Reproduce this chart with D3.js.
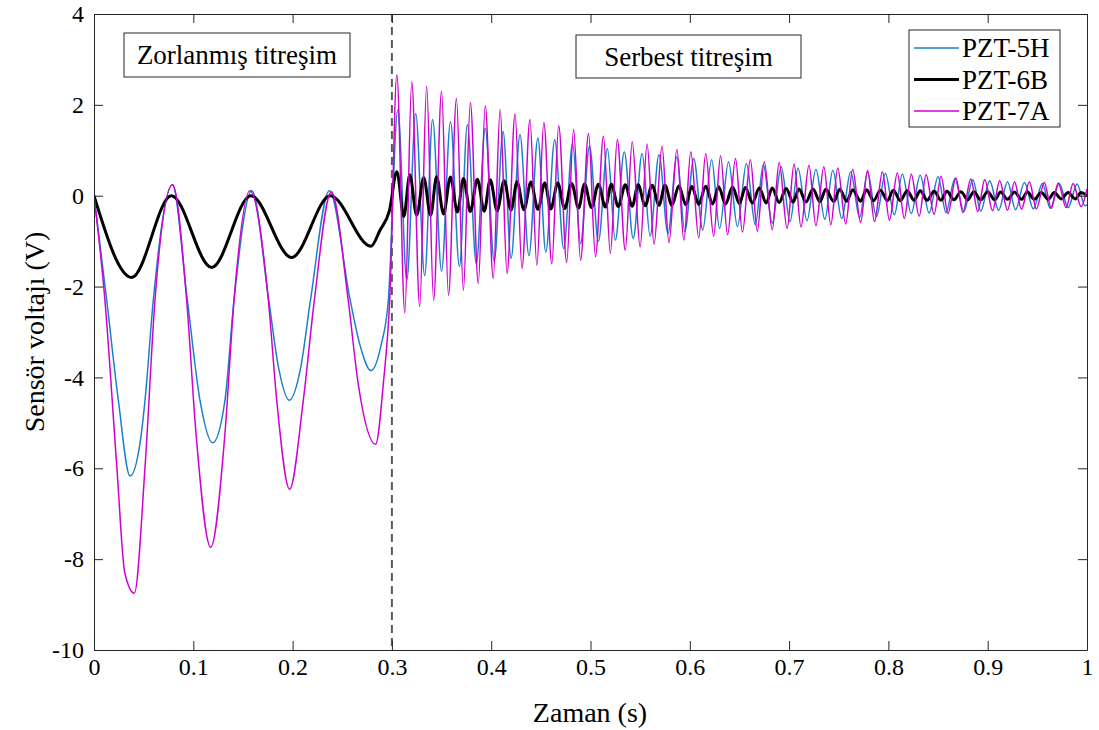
<!DOCTYPE html>
<html>
<head>
<meta charset="utf-8">
<script src="https://cdn.jsdelivr.net/npm/d3@7"></script>
<style>
  body { margin: 0; background: #fff; }
  svg text { fill: #000; }
</style>
</head>
<body>
<svg id="chart" width="1099" height="730"></svg>
<script>
// tick values
const xTicks = [0, 0.1, 0.2, 0.3, 0.4, 0.5, 0.6, 0.7, 0.8, 0.9, 1];
const yTicks = [-10, -8, -6, -4, -2, 0, 2, 4];

const seriesNames = ["PZT-5H", "PZT-6B", "PZT-7A"];

// forced part (t < 0.3): [time, volt]
const forced5H = [[0,0],[.0128,-2.3],[.0245,-4.5],[.0363,-6.17],[.0463,-5.45],[.0514,-4.5],[.0597,-2.3],[.079,.24],
  [.094,-2.3],[.1067,-4.5],[.1195,-5.44],[.1319,-4.5],[.141,-2.3],[.159,.11],
  [.176,-2.3],[.186,-3.8],[.1967,-4.5],[.208,-3.8],[.218,-2.3],[.237,.11],
  [.258,-2.3],[.268,-3.3],[.279,-3.85],[.289,-3.3],[.2964,-2.3]];
const forced6B = [[0,0],[.038,-1.80],[.078,0],[.1185,-1.58],[.158,0],[.199,-1.36],[.238,0],[.279,-1.11],[.288,-0.76],[.2976,-0.32]];
const forced7A = [[0,0],[.011,-2.3],[.023,-5.97],[.031,-8.3],[.0406,-8.75],[.0514,-5.97],[.0614,-2.3],[.0792,.24],
  [.0933,-2.3],[.1027,-5.23],[.1175,-7.74],[.1319,-5.23],[.141,-2.3],[.157,.11],
  [.1756,-2.3],[.184,-4.5],[.197,-6.46],[.2108,-4.5],[.2219,-2.3],[.239,.09],
  [.256,-2.3],[.266,-4.13],[.2836,-5.47],[.2914,-4.13],[.298,-2.2]];

// free part: peaks and troughs
const peaks5H = [[.306,1.89],[.324,1.81],[.341,1.68],[.359,1.63],[.376,1.56],[.394,1.48],[.412,1.41],[.429,1.34],[.447,1.27],[.464,1.23],
  [.482,1.15],[.499,1.09],[.517,1.04],[.534,0.97],[.552,0.93],[.569,0.90],[.587,0.86],[.604,0.82],[.622,0.79],[.639,0.75],
  [.657,0.71],[.674,0.68],[.692,0.64],[.709,0.61],[.727,0.58],[.744,0.56],[.762,0.53],[.779,0.51],[.797,0.49],[.814,0.47],
  [.832,0.45],[.850,0.42],[.867,0.38],[.885,0.35],[.902,0.33],[.920,0.31],[.937,0.29],[.955,0.27],[.972,0.27],[.990,0.26]];
const troughs5H = [[.315,-1.86],[.333,-1.76],[.350,-1.66],[.368,-1.56],[.385,-1.50],[.403,-1.44],[.420,-1.38],[.438,-1.32],[.455,-1.24],[.473,-1.16],
  [.490,-1.05],[.508,-1.01],[.525,-0.98],[.543,-0.94],[.560,-0.89],[.578,-0.83],[.595,-0.79],[.613,-0.76],[.630,-0.72],[.648,-0.68],
  [.666,-0.64],[.683,-0.60],[.701,-0.57],[.718,-0.55],[.736,-0.52],[.753,-0.50],[.771,-0.48],[.788,-0.46],[.806,-0.42],[.823,-0.39],
  [.841,-0.38],[.858,-0.37],[.876,-0.35],[.893,-0.34],[.911,-0.32],[.928,-0.31],[.946,-0.29],[.963,-0.28],[.981,-0.26],[.998,-0.22],[1,-0.2]];

const peaks6B = [[.305,.53],[.318,.46],[.332,.40],[.345,.42],[.359,.41],[.372,.38],[.386,.36],[.399,.35],[.413,.33],[.426,.31],
  [.440,.30],[.454,.28],[.467,.28],[.481,.27],[.494,.26],[.508,.25],[.521,.25],[.535,.24],[.548,.24],[.562,.23],
  [.575,.23],[.589,.22],[.602,.21],[.616,.21],[.629,.20],[.643,.19],[.656,.18],[.670,.17],[.683,.17],[.697,.16],
  [.710,.15],[.724,.15],[.737,.14],[.751,.14],[.764,.13],[.778,.13],[.792,.12],[.805,.12],[.819,.11],[.832,.11],
  [.846,.10],[.859,.10],[.873,.09],[.886,.09],[.900,.09],[.913,.08],[.927,.08],[.940,.08],[.954,.07],[.967,.07],
  [.981,.07],[.994,.07]];
const troughs6B = [[.312,-.46],[.325,-.43],[.339,-.43],[.352,-.40],[.366,-.36],[.379,-.35],[.393,-.34],[.406,-.33],[.420,-.32],[.433,-.31],
  [.447,-.30],[.460,-.29],[.474,-.28],[.488,-.27],[.501,-.26],[.515,-.25],[.528,-.24],[.542,-.23],[.555,-.22],[.569,-.21],
  [.582,-.21],[.596,-.20],[.609,-.19],[.623,-.18],[.636,-.18],[.650,-.17],[.663,-.16],[.677,-.16],[.690,-.15],[.704,-.14],
  [.717,-.14],[.731,-.13],[.745,-.13],[.758,-.12],[.772,-.12],[.785,-.11],[.799,-.11],[.812,-.11],[.826,-.10],[.839,-.10],
  [.853,-.10],[.866,-.09],[.880,-.09],[.893,-.09],[.907,-.09],[.920,-.08],[.934,-.08],[.947,-.08],[.961,-.08],[.974,-.07],
  [.988,-.07],[1,0]];

const peaks7A = [[.305,2.66],[.320,2.51],[.335,2.41],[.350,2.30],[.365,2.14],[.379,2.05],[.394,1.98],[.409,1.89],[.424,1.80],[.439,1.68],
  [.453,1.61],[.468,1.54],[.483,1.46],[.498,1.37],[.513,1.31],[.527,1.24],[.542,1.19],[.557,1.14],[.572,1.09],[.587,1.02],
  [.601,0.97],[.616,0.93],[.631,0.88],[.646,0.82],[.661,0.79],[.675,0.75],[.690,0.73],[.705,0.70],[.720,0.67],[.735,0.64],
  [.749,0.61],[.764,0.58],[.779,0.56],[.794,0.53],[.809,0.50],[.823,0.47],[.838,0.46],[.853,0.43],[.868,0.39],[.883,0.37],
  [.897,0.35],[.912,0.33],[.927,0.31],[.942,0.31],[.957,0.29],[.971,0.28],[.986,0.27],[1,0.15]];
const troughs7A = [[.313,-2.58],[.328,-2.44],[.342,-2.30],[.357,-2.19],[.372,-2.08],[.387,-1.93],[.402,-1.82],[.416,-1.71],[.431,-1.60],[.446,-1.53],
  [.461,-1.50],[.476,-1.47],[.490,-1.42],[.505,-1.34],[.520,-1.27],[.535,-1.20],[.550,-1.13],[.564,-1.07],[.579,-1.03],[.594,-0.98],
  [.609,-0.93],[.624,-0.89],[.638,-0.86],[.653,-0.80],[.668,-0.78],[.683,-0.75],[.698,-0.72],[.712,-0.69],[.727,-0.66],[.742,-0.64],
  [.757,-0.62],[.772,-0.59],[.786,-0.57],[.801,-0.54],[.816,-0.50],[.831,-0.45],[.846,-0.41],[.860,-0.39],[.875,-0.37],[.890,-0.35],
  [.905,-0.33],[.920,-0.32],[.934,-0.30],[.949,-0.29],[.964,-0.28],[.979,-0.26],[.994,-0.24]];

const serif = "'Liberation Serif', 'Times New Roman', Times, Tinos, 'DejaVu Serif', serif";
const svg = d3.select("#chart");
const x = d3.scaleLinear().domain([0, 1]).range([94, 1087]);
const y = d3.scaleLinear().domain([-10, 4]).range([650, 14]);

const series = [
  { name: seriesNames[0], color: "#1a80c8", width: 1.5, pts: forced5H.concat(peaks5H, troughs5H) },
  { name: seriesNames[1], color: "#000000", width: 3, pts: forced6B.concat(peaks6B, troughs6B) },
  { name: seriesNames[2], color: "#d000d0", width: 1.5, pts: forced7A.concat(peaks7A, troughs7A) }
];
series.forEach(s => s.pts.sort((a, b) => a[0] - b[0]));

svg.append("clipPath").attr("id", "clip")
  .append("rect").attr("x", 94).attr("y", 14).attr("width", 993).attr("height", 636);

const line = d3.line()
  .x(d => x(d[0]))
  .y(d => y(d[1]))
  .curve(d3.curveMonotoneX);

// dashed separator
svg.append("line")
  .attr("x1", x(0.3)).attr("x2", x(0.3))
  .attr("y1", y(4)).attr("y2", y(-10))
  .attr("stroke", "#5a5a5a").attr("stroke-width", 2)
  .attr("stroke-dasharray", "8,5");

svg.append("g").attr("clip-path", "url(#clip)")
  .selectAll("path")
  .data(series)
  .join("path")
  .attr("d", d => line(d.pts))
  .attr("fill", "none")
  .attr("stroke", d => d.color)
  .attr("stroke-width", d => d.width)
  .attr("stroke-linejoin", "round");

// axes, MATLAB-like box with inward ticks
const axisColor = "#262626";
const fontSize = 24;
function styleAxis(g) {
  g.attr("font-family", null).attr("font-size", fontSize);
  g.selectAll("text").style("font-family", serif);
  g.selectAll(".domain, .tick line").attr("stroke", axisColor);
}
const plain = d => String(d);
svg.append("g").attr("transform", "translate(0,650)")
  .call(d3.axisBottom(x).tickValues(xTicks).tickFormat(plain).tickSizeInner(-9).tickSizeOuter(0).tickPadding(8))
  .call(styleAxis);
svg.append("g").attr("transform", "translate(94,0)")
  .call(d3.axisLeft(y).tickValues(yTicks).tickFormat(plain).tickSizeInner(-9).tickSizeOuter(0).tickPadding(10))
  .call(styleAxis);
svg.append("g").attr("transform", "translate(0,14)")
  .call(d3.axisTop(x).tickValues(xTicks).tickFormat("").tickSizeInner(-9).tickSizeOuter(0))
  .call(styleAxis);
svg.append("g").attr("transform", "translate(1087,0)")
  .call(d3.axisRight(y).tickValues(yTicks).tickFormat("").tickSizeInner(-9).tickSizeOuter(0))
  .call(styleAxis);

// axis titles
svg.append("text")
  .attr("x", 590).attr("y", 722)
  .attr("text-anchor", "middle").attr("font-size", 28).style("font-family", serif)
  .text("Zaman (s)");
svg.append("text")
  .attr("transform", "translate(44,332) rotate(-90)")
  .attr("text-anchor", "middle").attr("font-size", 28).style("font-family", serif)
  .text("Sensör voltajı (V)");

// annotation boxes
const notes = [
  { text: "Zorlanmış titreşim", x0: 124, y0: 33, w: 226, h: 44 },
  { text: "Serbest titreşim", x0: 576, y0: 35, w: 225, h: 43 }
];
notes.forEach(n => {
  svg.append("rect")
    .attr("x", n.x0).attr("y", n.y0).attr("width", n.w).attr("height", n.h)
    .attr("fill", "#fff").attr("stroke", axisColor).attr("stroke-width", 1);
  svg.append("text")
    .attr("x", n.x0 + n.w / 2).attr("y", n.y0 + n.h / 2)
    .attr("dy", "0.35em").attr("text-anchor", "middle")
    .attr("font-size", 27).style("font-family", serif)
    .text(n.text);
});

// legend
const lg = svg.append("g").attr("transform", "translate(909,30)");
lg.append("rect").attr("width", 151).attr("height", 97)
  .attr("fill", "#fff").attr("stroke", axisColor).attr("stroke-width", 1);
series.forEach((s, i) => {
  const yy = 18 + i * 31.5;
  lg.append("line").attr("x1", 5).attr("x2", 50).attr("y1", yy).attr("y2", yy)
    .attr("stroke", s.color).attr("stroke-width", s.width);
  lg.append("text").attr("x", 53).attr("y", yy).attr("dy", "0.35em")
    .attr("font-size", 27).style("font-family", serif).text(s.name);
});
</script>
</body>
</html>
